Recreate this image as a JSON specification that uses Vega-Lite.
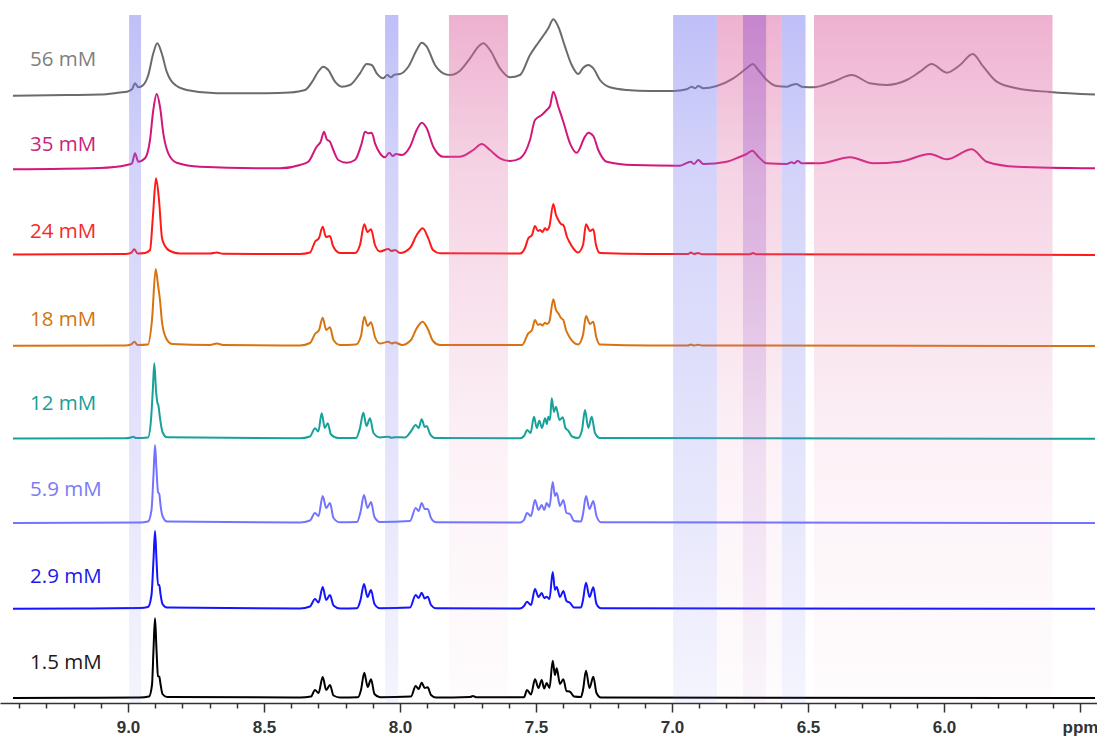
{
"$schema":"https://vega.github.io/schema/vega-lite/v6.json",
"width":1097,"height":703,"autosize":{"type":"none"},"padding":{"left":0,"top":0,"right":0,"bottom":35},
"config":{"view":{"stroke":null},"background":"white"},
"datasets":{
"bands":[
{"k":"blue","a":8.996,"b":8.952},{"k":"blue","a":8.055,"b":8.006},{"k":"pink","a":7.820,"b":7.603},
{"k":"blue","a":6.996,"b":6.835},{"k":"pink","a":6.835,"b":6.596},{"k":"purple","a":6.739,"b":6.654},
{"k":"blue","a":6.596,"b":6.509},{"k":"pink","a":6.478,"b":5.601}],
"labels":[
{"s":"56 mM","x":9.36,"y":643},{"s":"35 mM","x":9.36,"y":558},{"s":"24 mM","x":9.36,"y":471},{"s":"18 mM","x":9.36,"y":383},
{"s":"12 mM","x":9.36,"y":299},{"s":"5.9 mM","x":9.36,"y":213},{"s":"2.9 mM","x":9.36,"y":126},{"s":"1.5 mM","x":9.36,"y":40}],
"spec":[
{"s":"56 mM","x":9.4228,"y":607.3},{"s":"56 mM","x":9.2243,"y":608},{"s":"56 mM","x":9.1030,"y":608.5},{"s":"56 mM","x":9.0294,"y":610.5},{"s":"56 mM","x":9.0037,"y":611.3},{"s":"56 mM","x":8.9853,"y":613.7},{"s":"56 mM","x":8.9743,"y":619.7},{"s":"56 mM","x":8.9621,"y":615.7},{"s":"56 mM","x":8.9438,"y":618},{"s":"56 mM","x":8.9254,"y":628},{"s":"56 mM","x":8.9070,"y":649.7},{"s":"56 mM","x":8.8923,"y":659.7},{"s":"56 mM","x":8.8761,"y":649.7},{"s":"56 mM","x":8.8577,"y":631.3},{"s":"56 mM","x":8.8335,"y":619.7},{"s":"56 mM","x":8.7842,"y":613},{"s":"56 mM","x":8.6739,"y":609.7},{"s":"56 mM","x":8.4901,"y":609.7},{"s":"56 mM","x":8.4044,"y":610.5},{"s":"56 mM","x":8.3493,"y":613},{"s":"56 mM","x":8.3188,"y":623},{"s":"56 mM","x":8.3015,"y":631},{"s":"56 mM","x":8.2820,"y":636.3},{"s":"56 mM","x":8.2636,"y":633},{"s":"56 mM","x":8.2390,"y":621.3},{"s":"56 mM","x":8.2143,"y":616.3},{"s":"56 mM","x":8.1838,"y":618},{"s":"56 mM","x":8.1471,"y":629.7},{"s":"56 mM","x":8.1224,"y":639},{"s":"56 mM","x":8.1041,"y":638},{"s":"56 mM","x":8.0857,"y":629.7},{"s":"56 mM","x":8.0614,"y":624.7},{"s":"56 mM","x":8.0467,"y":628},{"s":"56 mM","x":8.0331,"y":625.7},{"s":"56 mM","x":8.0210,"y":628.3},{"s":"56 mM","x":8.0000,"y":629},{"s":"56 mM","x":7.9695,"y":636.3},{"s":"56 mM","x":7.9386,"y":653},{"s":"56 mM","x":7.9202,"y":660.3},{"s":"56 mM","x":7.9018,"y":656.3},{"s":"56 mM","x":7.8713,"y":638},{"s":"56 mM","x":7.8408,"y":629.7},{"s":"56 mM","x":7.8162,"y":628},{"s":"56 mM","x":7.7794,"y":632.3},{"s":"56 mM","x":7.7427,"y":644.7},{"s":"56 mM","x":7.7121,"y":656.3},{"s":"56 mM","x":7.6938,"y":659.7},{"s":"56 mM","x":7.6691,"y":653},{"s":"56 mM","x":7.6324,"y":634.7},{"s":"56 mM","x":7.5956,"y":625.7},{"s":"56 mM","x":7.5588,"y":628},{"s":"56 mM","x":7.5221,"y":648},{"s":"56 mM","x":7.4916,"y":660.3},{"s":"56 mM","x":7.4669,"y":669.7},{"s":"56 mM","x":7.4548,"y":674.7},{"s":"56 mM","x":7.4364,"y":683.7},{"s":"56 mM","x":7.4180,"y":676.3},{"s":"56 mM","x":7.3934,"y":656.3},{"s":"56 mM","x":7.3688,"y":638},{"s":"56 mM","x":7.3445,"y":629},{"s":"56 mM","x":7.3272,"y":635},{"s":"56 mM","x":7.3077,"y":638},{"s":"56 mM","x":7.2893,"y":634.7},{"s":"56 mM","x":7.2647,"y":623},{"s":"56 mM","x":7.2280,"y":615.7},{"s":"56 mM","x":7.1666,"y":613},{"s":"56 mM","x":7.0809,"y":612},{"s":"56 mM","x":6.9952,"y":612},{"s":"56 mM","x":6.9460,"y":613.7},{"s":"56 mM","x":6.9276,"y":616.3},{"s":"56 mM","x":6.9155,"y":614.7},{"s":"56 mM","x":6.9033,"y":617},{"s":"56 mM","x":6.8849,"y":614.7},{"s":"56 mM","x":6.8357,"y":617},{"s":"56 mM","x":6.7746,"y":624.7},{"s":"56 mM","x":6.7254,"y":634.7},{"s":"56 mM","x":6.7033,"y":639},{"s":"56 mM","x":6.6827,"y":633},{"s":"56 mM","x":6.6518,"y":623},{"s":"56 mM","x":6.6151,"y":617},{"s":"56 mM","x":6.5783,"y":616.3},{"s":"56 mM","x":6.5599,"y":618},{"s":"56 mM","x":6.5416,"y":619},{"s":"56 mM","x":6.5232,"y":616.3},{"s":"56 mM","x":6.4805,"y":615.7},{"s":"56 mM","x":6.4070,"y":621.3},{"s":"56 mM","x":6.3393,"y":628},{"s":"56 mM","x":6.2721,"y":619.7},{"s":"56 mM","x":6.2107,"y":618},{"s":"56 mM","x":6.1371,"y":623},{"s":"56 mM","x":6.0882,"y":631.3},{"s":"56 mM","x":6.0452,"y":639},{"s":"56 mM","x":5.9901,"y":630.3},{"s":"56 mM","x":5.9412,"y":638},{"s":"56 mM","x":5.8945,"y":649},{"s":"56 mM","x":5.8555,"y":636.3},{"s":"56 mM","x":5.8063,"y":621.3},{"s":"56 mM","x":5.7327,"y":614.7},{"s":"56 mM","x":5.6103,"y":611},{"s":"56 mM","x":5.4449,"y":608.5},
{"s":"35 mM","x":9.4228,"y":533.7},{"s":"35 mM","x":9.1030,"y":535},{"s":"35 mM","x":9.0037,"y":538},{"s":"35 mM","x":8.9853,"y":539.7},{"s":"35 mM","x":8.9743,"y":549.7},{"s":"35 mM","x":8.9621,"y":541.3},{"s":"35 mM","x":8.9375,"y":544.7},{"s":"35 mM","x":8.9191,"y":563},{"s":"35 mM","x":8.9070,"y":593},{"s":"35 mM","x":8.8945,"y":609},{"s":"35 mM","x":8.8824,"y":596.3},{"s":"35 mM","x":8.8702,"y":569.7},{"s":"35 mM","x":8.8518,"y":549.7},{"s":"35 mM","x":8.8210,"y":540.3},{"s":"35 mM","x":8.7353,"y":536.3},{"s":"35 mM","x":8.4412,"y":534.7},{"s":"35 mM","x":8.3677,"y":538},{"s":"35 mM","x":8.3371,"y":541.3},{"s":"35 mM","x":8.3063,"y":556.3},{"s":"35 mM","x":8.2916,"y":561.3},{"s":"35 mM","x":8.2794,"y":571.3},{"s":"35 mM","x":8.2695,"y":563.7},{"s":"35 mM","x":8.2574,"y":561.3},{"s":"35 mM","x":8.2452,"y":553},{"s":"35 mM","x":8.2268,"y":543},{"s":"35 mM","x":8.1960,"y":540.3},{"s":"35 mM","x":8.1655,"y":543},{"s":"35 mM","x":8.1408,"y":559.7},{"s":"35 mM","x":8.1287,"y":571.3},{"s":"35 mM","x":8.1166,"y":569.7},{"s":"35 mM","x":8.1041,"y":570.3},{"s":"35 mM","x":8.0919,"y":559.7},{"s":"35 mM","x":8.0735,"y":549.7},{"s":"35 mM","x":8.0552,"y":545.7},{"s":"35 mM","x":8.0394,"y":550.3},{"s":"35 mM","x":8.0268,"y":547},{"s":"35 mM","x":8.0147,"y":549},{"s":"35 mM","x":7.9938,"y":548},{"s":"35 mM","x":7.9632,"y":556.3},{"s":"35 mM","x":7.9386,"y":573},{"s":"35 mM","x":7.9202,"y":580.3},{"s":"35 mM","x":7.9018,"y":574.7},{"s":"35 mM","x":7.8776,"y":556.3},{"s":"35 mM","x":7.8408,"y":546.3},{"s":"35 mM","x":7.7794,"y":546.3},{"s":"35 mM","x":7.7305,"y":553},{"s":"35 mM","x":7.6996,"y":559},{"s":"35 mM","x":7.6691,"y":553},{"s":"35 mM","x":7.6324,"y":544.7},{"s":"35 mM","x":7.5956,"y":542},{"s":"35 mM","x":7.5588,"y":544.7},{"s":"35 mM","x":7.5221,"y":563},{"s":"35 mM","x":7.5037,"y":583},{"s":"35 mM","x":7.4791,"y":588},{"s":"35 mM","x":7.4607,"y":593},{"s":"35 mM","x":7.4485,"y":597},{"s":"35 mM","x":7.4364,"y":611.3},{"s":"35 mM","x":7.4180,"y":596.3},{"s":"35 mM","x":7.3996,"y":581.3},{"s":"35 mM","x":7.3750,"y":559.7},{"s":"35 mM","x":7.3504,"y":550.3},{"s":"35 mM","x":7.3199,"y":566.3},{"s":"35 mM","x":7.3077,"y":570.3},{"s":"35 mM","x":7.2893,"y":567},{"s":"35 mM","x":7.2710,"y":553},{"s":"35 mM","x":7.2401,"y":541.3},{"s":"35 mM","x":7.1423,"y":538},{"s":"35 mM","x":6.9706,"y":537.3},{"s":"35 mM","x":6.9313,"y":541.3},{"s":"35 mM","x":6.9191,"y":539},{"s":"35 mM","x":6.9033,"y":543},{"s":"35 mM","x":6.8849,"y":539},{"s":"35 mM","x":6.7989,"y":541.3},{"s":"35 mM","x":6.7500,"y":546.3},{"s":"35 mM","x":6.7254,"y":549},{"s":"35 mM","x":6.7048,"y":552.3},{"s":"35 mM","x":6.6827,"y":546.3},{"s":"35 mM","x":6.6518,"y":539.7},{"s":"35 mM","x":6.5783,"y":539},{"s":"35 mM","x":6.5599,"y":540.7},{"s":"35 mM","x":6.5504,"y":539.7},{"s":"35 mM","x":6.5379,"y":542.3},{"s":"35 mM","x":6.5232,"y":539.7},{"s":"35 mM","x":6.4559,"y":539.7},{"s":"35 mM","x":6.3456,"y":545.7},{"s":"35 mM","x":6.2599,"y":539.7},{"s":"35 mM","x":6.1618,"y":541.3},{"s":"35 mM","x":6.0515,"y":549},{"s":"35 mM","x":5.9901,"y":543.7},{"s":"35 mM","x":5.8982,"y":553.7},{"s":"35 mM","x":5.8430,"y":541.3},{"s":"35 mM","x":5.7327,"y":536.3},{"s":"35 mM","x":5.4449,"y":534.7},
{"s":"24 mM","x":9.4228,"y":448.5},{"s":"24 mM","x":9.0110,"y":449},{"s":"24 mM","x":8.9890,"y":450},{"s":"24 mM","x":8.9768,"y":453.7},{"s":"24 mM","x":8.9651,"y":449.5},{"s":"24 mM","x":8.9375,"y":450},{"s":"24 mM","x":8.9191,"y":453},{"s":"24 mM","x":8.9081,"y":488},{"s":"24 mM","x":8.8971,"y":524.7},{"s":"24 mM","x":8.8860,"y":503},{"s":"24 mM","x":8.8750,"y":465},{"s":"24 mM","x":8.8640,"y":457},{"s":"24 mM","x":8.8456,"y":452},{"s":"24 mM","x":8.8088,"y":449.5},{"s":"24 mM","x":8.6985,"y":449.5},{"s":"24 mM","x":8.6739,"y":450.5},{"s":"24 mM","x":8.6507,"y":449.2},{"s":"24 mM","x":8.3677,"y":449},{"s":"24 mM","x":8.3309,"y":450.5},{"s":"24 mM","x":8.3125,"y":461.3},{"s":"24 mM","x":8.2978,"y":465},{"s":"24 mM","x":8.2842,"y":476.3},{"s":"24 mM","x":8.2721,"y":466},{"s":"24 mM","x":8.2574,"y":467},{"s":"24 mM","x":8.2463,"y":457},{"s":"24 mM","x":8.2206,"y":450},{"s":"24 mM","x":8.1655,"y":450},{"s":"24 mM","x":8.1471,"y":458},{"s":"24 mM","x":8.1313,"y":478.7},{"s":"24 mM","x":8.1195,"y":471},{"s":"24 mM","x":8.1066,"y":473.7},{"s":"24 mM","x":8.0919,"y":458},{"s":"24 mM","x":8.0735,"y":451.5},{"s":"24 mM","x":8.0430,"y":454},{"s":"24 mM","x":8.0313,"y":452},{"s":"24 mM","x":8.0184,"y":453},{"s":"24 mM","x":8.0000,"y":450},{"s":"24 mM","x":7.9632,"y":455},{"s":"24 mM","x":7.9386,"y":468},{"s":"24 mM","x":7.9166,"y":474.7},{"s":"24 mM","x":7.8960,"y":464.7},{"s":"24 mM","x":7.8787,"y":453},{"s":"24 mM","x":7.8530,"y":449.7},{"s":"24 mM","x":7.5588,"y":449.5},{"s":"24 mM","x":7.5405,"y":455},{"s":"24 mM","x":7.5283,"y":464.7},{"s":"24 mM","x":7.5147,"y":468},{"s":"24 mM","x":7.5037,"y":477},{"s":"24 mM","x":7.4927,"y":472},{"s":"24 mM","x":7.4853,"y":473},{"s":"24 mM","x":7.4761,"y":471},{"s":"24 mM","x":7.4669,"y":474.7},{"s":"24 mM","x":7.4596,"y":473},{"s":"24 mM","x":7.4511,"y":476.3},{"s":"24 mM","x":7.4364,"y":499},{"s":"24 mM","x":7.4265,"y":488},{"s":"24 mM","x":7.4180,"y":483},{"s":"24 mM","x":7.4081,"y":479},{"s":"24 mM","x":7.3996,"y":478},{"s":"24 mM","x":7.3860,"y":466},{"s":"24 mM","x":7.3776,"y":461.3},{"s":"24 mM","x":7.3629,"y":454.7},{"s":"24 mM","x":7.3456,"y":450.5},{"s":"24 mM","x":7.3272,"y":458},{"s":"24 mM","x":7.3162,"y":478.7},{"s":"24 mM","x":7.3015,"y":472},{"s":"24 mM","x":7.2893,"y":473.7},{"s":"24 mM","x":7.2794,"y":458},{"s":"24 mM","x":7.2647,"y":450},{"s":"24 mM","x":7.0809,"y":449},{"s":"24 mM","x":6.9412,"y":449},{"s":"24 mM","x":6.9302,"y":450.5},{"s":"24 mM","x":6.9191,"y":449},{"s":"24 mM","x":6.9044,"y":450},{"s":"24 mM","x":6.8897,"y":448.7},{"s":"24 mM","x":6.7132,"y":448.7},{"s":"24 mM","x":6.7022,"y":450},{"s":"24 mM","x":6.6912,"y":448.7},{"s":"24 mM","x":5.4449,"y":448},
{"s":"18 mM","x":9.4228,"y":357.3},{"s":"18 mM","x":9.0110,"y":357.5},{"s":"18 mM","x":8.9890,"y":358.5},{"s":"18 mM","x":8.9768,"y":361.3},{"s":"18 mM","x":8.9651,"y":358},{"s":"18 mM","x":8.9265,"y":358.5},{"s":"18 mM","x":8.9118,"y":383},{"s":"18 mM","x":8.8982,"y":434},{"s":"18 mM","x":8.8897,"y":418},{"s":"18 mM","x":8.8824,"y":403},{"s":"18 mM","x":8.8750,"y":381},{"s":"18 mM","x":8.8603,"y":365},{"s":"18 mM","x":8.8382,"y":359},{"s":"18 mM","x":8.6985,"y":358},{"s":"18 mM","x":8.6739,"y":359.5},{"s":"18 mM","x":8.6507,"y":358},{"s":"18 mM","x":8.3677,"y":357.5},{"s":"18 mM","x":8.3309,"y":360},{"s":"18 mM","x":8.3125,"y":369},{"s":"18 mM","x":8.2978,"y":373},{"s":"18 mM","x":8.2842,"y":385.3},{"s":"18 mM","x":8.2713,"y":373},{"s":"18 mM","x":8.2574,"y":375.7},{"s":"18 mM","x":8.2445,"y":363},{"s":"18 mM","x":8.2206,"y":358},{"s":"18 mM","x":8.1618,"y":358.5},{"s":"18 mM","x":8.1434,"y":367},{"s":"18 mM","x":8.1313,"y":386.3},{"s":"18 mM","x":8.1195,"y":377},{"s":"18 mM","x":8.1066,"y":380.7},{"s":"18 mM","x":8.0919,"y":366},{"s":"18 mM","x":8.0735,"y":359.5},{"s":"18 mM","x":8.0430,"y":361.3},{"s":"18 mM","x":8.0313,"y":359.5},{"s":"18 mM","x":8.0184,"y":360.5},{"s":"18 mM","x":7.9927,"y":358},{"s":"18 mM","x":7.9596,"y":363},{"s":"18 mM","x":7.9386,"y":374.7},{"s":"18 mM","x":7.9166,"y":381.3},{"s":"18 mM","x":7.8960,"y":373},{"s":"18 mM","x":7.8787,"y":362},{"s":"18 mM","x":7.8530,"y":358},{"s":"18 mM","x":7.5515,"y":358},{"s":"18 mM","x":7.5283,"y":369.7},{"s":"18 mM","x":7.5147,"y":373},{"s":"18 mM","x":7.5037,"y":383},{"s":"18 mM","x":7.4927,"y":378},{"s":"18 mM","x":7.4853,"y":379},{"s":"18 mM","x":7.4761,"y":377.5},{"s":"18 mM","x":7.4669,"y":380.3},{"s":"18 mM","x":7.4596,"y":379},{"s":"18 mM","x":7.4511,"y":381.3},{"s":"18 mM","x":7.4364,"y":403.7},{"s":"18 mM","x":7.4265,"y":393},{"s":"18 mM","x":7.4180,"y":389.7},{"s":"18 mM","x":7.4081,"y":385},{"s":"18 mM","x":7.3996,"y":383},{"s":"18 mM","x":7.3897,"y":373},{"s":"18 mM","x":7.3776,"y":366.3},{"s":"18 mM","x":7.3629,"y":361},{"s":"18 mM","x":7.3456,"y":358.5},{"s":"18 mM","x":7.3272,"y":368},{"s":"18 mM","x":7.3162,"y":387},{"s":"18 mM","x":7.3015,"y":379},{"s":"18 mM","x":7.2893,"y":381.3},{"s":"18 mM","x":7.2794,"y":367},{"s":"18 mM","x":7.2647,"y":358.5},{"s":"18 mM","x":7.0809,"y":357.5},{"s":"18 mM","x":6.9412,"y":357.5},{"s":"18 mM","x":6.9302,"y":358.5},{"s":"18 mM","x":6.9191,"y":357.5},{"s":"18 mM","x":6.9044,"y":358.2},{"s":"18 mM","x":6.8897,"y":357.5},{"s":"18 mM","x":5.4449,"y":357},
{"s":"12 mM","x":9.4228,"y":264.5},{"s":"12 mM","x":9.0110,"y":264.7},{"s":"12 mM","x":8.9927,"y":265.2},{"s":"12 mM","x":8.9805,"y":266.3},{"s":"12 mM","x":8.9706,"y":265},{"s":"12 mM","x":8.9265,"y":265.5},{"s":"12 mM","x":8.9155,"y":283},{"s":"12 mM","x":8.9088,"y":313},{"s":"12 mM","x":8.9033,"y":339.7},{"s":"12 mM","x":8.8971,"y":313},{"s":"12 mM","x":8.8916,"y":300},{"s":"12 mM","x":8.8886,"y":298},{"s":"12 mM","x":8.8824,"y":285},{"s":"12 mM","x":8.8732,"y":271},{"s":"12 mM","x":8.8566,"y":265.7},{"s":"12 mM","x":8.3677,"y":264.7},{"s":"12 mM","x":8.3309,"y":266.5},{"s":"12 mM","x":8.3125,"y":274.7},{"s":"12 mM","x":8.3004,"y":271.5},{"s":"12 mM","x":8.2879,"y":289.7},{"s":"12 mM","x":8.2765,"y":275},{"s":"12 mM","x":8.2658,"y":279.7},{"s":"12 mM","x":8.2537,"y":268.5},{"s":"12 mM","x":8.2280,"y":265},{"s":"12 mM","x":8.1618,"y":265},{"s":"12 mM","x":8.1471,"y":275},{"s":"12 mM","x":8.1349,"y":290.3},{"s":"12 mM","x":8.1232,"y":277},{"s":"12 mM","x":8.1103,"y":284.7},{"s":"12 mM","x":8.0974,"y":270},{"s":"12 mM","x":8.0735,"y":265.5},{"s":"12 mM","x":8.0430,"y":266.3},{"s":"12 mM","x":8.0313,"y":265.2},{"s":"12 mM","x":8.0184,"y":265.8},{"s":"12 mM","x":7.9816,"y":265.5},{"s":"12 mM","x":7.9614,"y":271},{"s":"12 mM","x":7.9423,"y":278},{"s":"12 mM","x":7.9316,"y":275},{"s":"12 mM","x":7.9202,"y":283.7},{"s":"12 mM","x":7.9088,"y":276},{"s":"12 mM","x":7.9018,"y":277},{"s":"12 mM","x":7.8897,"y":269},{"s":"12 mM","x":7.8713,"y":265},{"s":"12 mM","x":7.5588,"y":264.7},{"s":"12 mM","x":7.5441,"y":267},{"s":"12 mM","x":7.5320,"y":273},{"s":"12 mM","x":7.5202,"y":270},{"s":"12 mM","x":7.5074,"y":286.3},{"s":"12 mM","x":7.4971,"y":275},{"s":"12 mM","x":7.4879,"y":282.3},{"s":"12 mM","x":7.4780,"y":275},{"s":"12 mM","x":7.4669,"y":284.7},{"s":"12 mM","x":7.4603,"y":279},{"s":"12 mM","x":7.4548,"y":286.3},{"s":"12 mM","x":7.4485,"y":283},{"s":"12 mM","x":7.4423,"y":304.7},{"s":"12 mM","x":7.4338,"y":291},{"s":"12 mM","x":7.4265,"y":296.3},{"s":"12 mM","x":7.4136,"y":283},{"s":"12 mM","x":7.4018,"y":285.7},{"s":"12 mM","x":7.3916,"y":275},{"s":"12 mM","x":7.3813,"y":272.3},{"s":"12 mM","x":7.3677,"y":266.5},{"s":"12 mM","x":7.3456,"y":265},{"s":"12 mM","x":7.3309,"y":273},{"s":"12 mM","x":7.3199,"y":293},{"s":"12 mM","x":7.3077,"y":275},{"s":"12 mM","x":7.2952,"y":286.3},{"s":"12 mM","x":7.2831,"y":270},{"s":"12 mM","x":7.2647,"y":265},{"s":"12 mM","x":5.4449,"y":264.2},
{"s":"5.9 mM","x":9.4228,"y":180},{"s":"5.9 mM","x":8.9559,"y":180.5},{"s":"5.9 mM","x":8.9265,"y":181.5},{"s":"5.9 mM","x":8.9136,"y":193},{"s":"5.9 mM","x":8.9063,"y":228},{"s":"5.9 mM","x":8.9007,"y":258},{"s":"5.9 mM","x":8.8952,"y":233},{"s":"5.9 mM","x":8.8897,"y":211},{"s":"5.9 mM","x":8.8849,"y":209},{"s":"5.9 mM","x":8.8805,"y":198},{"s":"5.9 mM","x":8.8732,"y":187},{"s":"5.9 mM","x":8.8566,"y":181.5},{"s":"5.9 mM","x":8.3677,"y":180.5},{"s":"5.9 mM","x":8.3309,"y":182.5},{"s":"5.9 mM","x":8.3125,"y":190},{"s":"5.9 mM","x":8.2996,"y":187},{"s":"5.9 mM","x":8.2842,"y":207},{"s":"5.9 mM","x":8.2713,"y":195},{"s":"5.9 mM","x":8.2574,"y":200},{"s":"5.9 mM","x":8.2445,"y":185},{"s":"5.9 mM","x":8.2206,"y":180.7},{"s":"5.9 mM","x":8.1581,"y":181},{"s":"5.9 mM","x":8.1452,"y":191},{"s":"5.9 mM","x":8.1324,"y":208},{"s":"5.9 mM","x":8.1195,"y":195},{"s":"5.9 mM","x":8.1066,"y":201},{"s":"5.9 mM","x":8.0938,"y":186},{"s":"5.9 mM","x":8.0735,"y":181},{"s":"5.9 mM","x":7.9632,"y":182},{"s":"5.9 mM","x":7.9423,"y":195},{"s":"5.9 mM","x":7.9316,"y":192},{"s":"5.9 mM","x":7.9202,"y":200},{"s":"5.9 mM","x":7.9092,"y":194},{"s":"5.9 mM","x":7.8982,"y":194},{"s":"5.9 mM","x":7.8860,"y":185},{"s":"5.9 mM","x":7.8677,"y":180.7},{"s":"5.9 mM","x":7.5588,"y":180.5},{"s":"5.9 mM","x":7.5441,"y":183},{"s":"5.9 mM","x":7.5331,"y":190},{"s":"5.9 mM","x":7.5184,"y":187},{"s":"5.9 mM","x":7.5037,"y":203},{"s":"5.9 mM","x":7.4908,"y":193},{"s":"5.9 mM","x":7.4791,"y":198},{"s":"5.9 mM","x":7.4699,"y":193},{"s":"5.9 mM","x":7.4607,"y":200},{"s":"5.9 mM","x":7.4504,"y":196},{"s":"5.9 mM","x":7.4386,"y":221},{"s":"5.9 mM","x":7.4302,"y":207},{"s":"5.9 mM","x":7.4239,"y":210},{"s":"5.9 mM","x":7.4118,"y":197},{"s":"5.9 mM","x":7.3996,"y":203},{"s":"5.9 mM","x":7.3879,"y":190},{"s":"5.9 mM","x":7.3750,"y":189},{"s":"5.9 mM","x":7.3603,"y":182},{"s":"5.9 mM","x":7.3346,"y":181.5},{"s":"5.9 mM","x":7.3272,"y":189},{"s":"5.9 mM","x":7.3162,"y":207},{"s":"5.9 mM","x":7.3033,"y":194},{"s":"5.9 mM","x":7.2893,"y":202},{"s":"5.9 mM","x":7.2776,"y":187},{"s":"5.9 mM","x":7.2610,"y":180.7},{"s":"5.9 mM","x":5.4449,"y":180},
{"s":"2.9 mM","x":9.4228,"y":94.3},{"s":"2.9 mM","x":9.1765,"y":94.5},{"s":"2.9 mM","x":8.9559,"y":95},{"s":"2.9 mM","x":8.9265,"y":96},{"s":"2.9 mM","x":8.9136,"y":108},{"s":"2.9 mM","x":8.9063,"y":143},{"s":"2.9 mM","x":8.9007,"y":172},{"s":"2.9 mM","x":8.8952,"y":143},{"s":"2.9 mM","x":8.8897,"y":118},{"s":"2.9 mM","x":8.8849,"y":118},{"s":"2.9 mM","x":8.8805,"y":109},{"s":"2.9 mM","x":8.8732,"y":99},{"s":"2.9 mM","x":8.8566,"y":95.5},{"s":"2.9 mM","x":8.3677,"y":94.5},{"s":"2.9 mM","x":8.3309,"y":96.5},{"s":"2.9 mM","x":8.3125,"y":104},{"s":"2.9 mM","x":8.2996,"y":100.5},{"s":"2.9 mM","x":8.2842,"y":116},{"s":"2.9 mM","x":8.2713,"y":103},{"s":"2.9 mM","x":8.2574,"y":108},{"s":"2.9 mM","x":8.2445,"y":97.5},{"s":"2.9 mM","x":8.2206,"y":94.5},{"s":"2.9 mM","x":8.1581,"y":94.7},{"s":"2.9 mM","x":8.1452,"y":103},{"s":"2.9 mM","x":8.1324,"y":119},{"s":"2.9 mM","x":8.1195,"y":106},{"s":"2.9 mM","x":8.1066,"y":113},{"s":"2.9 mM","x":8.0938,"y":99},{"s":"2.9 mM","x":8.0735,"y":94.7},{"s":"2.9 mM","x":7.9632,"y":95.5},{"s":"2.9 mM","x":7.9423,"y":108},{"s":"2.9 mM","x":7.9316,"y":105},{"s":"2.9 mM","x":7.9202,"y":110.3},{"s":"2.9 mM","x":7.9092,"y":104.5},{"s":"2.9 mM","x":7.8982,"y":106.3},{"s":"2.9 mM","x":7.8860,"y":98},{"s":"2.9 mM","x":7.8677,"y":94.7},{"s":"2.9 mM","x":7.5588,"y":94.5},{"s":"2.9 mM","x":7.5441,"y":97},{"s":"2.9 mM","x":7.5331,"y":101.3},{"s":"2.9 mM","x":7.5184,"y":98},{"s":"2.9 mM","x":7.5037,"y":114},{"s":"2.9 mM","x":7.4908,"y":106},{"s":"2.9 mM","x":7.4791,"y":110},{"s":"2.9 mM","x":7.4699,"y":105},{"s":"2.9 mM","x":7.4607,"y":106.3},{"s":"2.9 mM","x":7.4504,"y":104},{"s":"2.9 mM","x":7.4386,"y":131},{"s":"2.9 mM","x":7.4302,"y":113},{"s":"2.9 mM","x":7.4239,"y":116},{"s":"2.9 mM","x":7.4118,"y":106},{"s":"2.9 mM","x":7.3996,"y":112},{"s":"2.9 mM","x":7.3879,"y":102},{"s":"2.9 mM","x":7.3750,"y":100.3},{"s":"2.9 mM","x":7.3603,"y":95.5},{"s":"2.9 mM","x":7.3346,"y":95.5},{"s":"2.9 mM","x":7.3272,"y":103},{"s":"2.9 mM","x":7.3162,"y":120.3},{"s":"2.9 mM","x":7.3033,"y":106},{"s":"2.9 mM","x":7.2893,"y":115.7},{"s":"2.9 mM","x":7.2776,"y":99},{"s":"2.9 mM","x":7.2610,"y":94.7},{"s":"2.9 mM","x":5.4449,"y":94.2},
{"s":"1.5 mM","x":9.4228,"y":5},{"s":"1.5 mM","x":9.1765,"y":5.2},{"s":"1.5 mM","x":8.9559,"y":5.5},{"s":"1.5 mM","x":8.9228,"y":6.5},{"s":"1.5 mM","x":8.9118,"y":18},{"s":"1.5 mM","x":8.9063,"y":53},{"s":"1.5 mM","x":8.9007,"y":84.7},{"s":"1.5 mM","x":8.8952,"y":53},{"s":"1.5 mM","x":8.8897,"y":27},{"s":"1.5 mM","x":8.8849,"y":26.3},{"s":"1.5 mM","x":8.8805,"y":19},{"s":"1.5 mM","x":8.8732,"y":9},{"s":"1.5 mM","x":8.8566,"y":6},{"s":"1.5 mM","x":8.3677,"y":5.5},{"s":"1.5 mM","x":8.3272,"y":6.5},{"s":"1.5 mM","x":8.3125,"y":13},{"s":"1.5 mM","x":8.2996,"y":10},{"s":"1.5 mM","x":8.2842,"y":26},{"s":"1.5 mM","x":8.2713,"y":13},{"s":"1.5 mM","x":8.2574,"y":18},{"s":"1.5 mM","x":8.2445,"y":7.5},{"s":"1.5 mM","x":8.2206,"y":5.5},{"s":"1.5 mM","x":8.1544,"y":5.7},{"s":"1.5 mM","x":8.1434,"y":13},{"s":"1.5 mM","x":8.1313,"y":30.3},{"s":"1.5 mM","x":8.1188,"y":16},{"s":"1.5 mM","x":8.1066,"y":23.7},{"s":"1.5 mM","x":8.0938,"y":9},{"s":"1.5 mM","x":8.0735,"y":5.7},{"s":"1.5 mM","x":7.9596,"y":6.5},{"s":"1.5 mM","x":7.9423,"y":17},{"s":"1.5 mM","x":7.9316,"y":14},{"s":"1.5 mM","x":7.9202,"y":20.3},{"s":"1.5 mM","x":7.9092,"y":15},{"s":"1.5 mM","x":7.8982,"y":15.7},{"s":"1.5 mM","x":7.8860,"y":8},{"s":"1.5 mM","x":7.8677,"y":5.5},{"s":"1.5 mM","x":7.7427,"y":6},{"s":"1.5 mM","x":7.7316,"y":7},{"s":"1.5 mM","x":7.7206,"y":5.8},{"s":"1.5 mM","x":7.5441,"y":5.7},{"s":"1.5 mM","x":7.5331,"y":13},{"s":"1.5 mM","x":7.5184,"y":8.5},{"s":"1.5 mM","x":7.5037,"y":23.7},{"s":"1.5 mM","x":7.4908,"y":15},{"s":"1.5 mM","x":7.4791,"y":23},{"s":"1.5 mM","x":7.4699,"y":14.5},{"s":"1.5 mM","x":7.4607,"y":20},{"s":"1.5 mM","x":7.4504,"y":15},{"s":"1.5 mM","x":7.4386,"y":42.3},{"s":"1.5 mM","x":7.4302,"y":28},{"s":"1.5 mM","x":7.4239,"y":34.7},{"s":"1.5 mM","x":7.4118,"y":19},{"s":"1.5 mM","x":7.3996,"y":23.7},{"s":"1.5 mM","x":7.3879,"y":12},{"s":"1.5 mM","x":7.3750,"y":11.3},{"s":"1.5 mM","x":7.3603,"y":6.5},{"s":"1.5 mM","x":7.3346,"y":6},{"s":"1.5 mM","x":7.3272,"y":13},{"s":"1.5 mM","x":7.3162,"y":32.3},{"s":"1.5 mM","x":7.3033,"y":15},{"s":"1.5 mM","x":7.2893,"y":26.3},{"s":"1.5 mM","x":7.2776,"y":10},{"s":"1.5 mM","x":7.2610,"y":5.5},{"s":"1.5 mM","x":5.4449,"y":5}
]},
"layer":[
{"data":{"name":"spec"},
 "mark":{"type":"line","strokeWidth":2,"interpolate":"monotone","strokeJoin":"round"},
 "encoding":{
  "x":{"field":"x","type":"quantitative","scale":{"domain":[5.4375,9.4706],"reverse":true,"nice":false,"zero":false},
   "axis":{"title":null,"orient":"bottom","grid":false,
    "values":[9.0,8.5,8.0,7.5,7.0,6.5,6.0,5.5],
    "domainColor":"#333333","domainWidth":1.6,"tickColor":"#333333","tickWidth":1.5,"tickSize":9,
    "labelExpr":"datum.value<5.6 ? 'ppm' : format(datum.value,'.1f')",
    "labelFont":"Liberation Sans","labelFontWeight":"bold","labelFontSize":17,"labelColor":"#333333","labelPadding":7,
    "labelFlush":false,"labelOverlap":false}},
  "y":{"field":"y","type":"quantitative","scale":{"domain":[0,703],"nice":false,"zero":false},"axis":null},
  "color":{"field":"s","type":"nominal","legend":null,
   "scale":{"domain":["56 mM","35 mM","24 mM","18 mM","12 mM","5.9 mM","2.9 mM","1.5 mM"],
    "range":["#6b6b6b","#d1177a","#ff1a1a","#d8730f","#17a19b","#7373ff","#1414ff","#000000"]}}
 }},
{"data":{"name":"bands"},"transform":[{"filter":"datum.k==='pink'"}],
 "mark":{"type":"rect","fill":{"gradient":"linear","x1":0,"y1":0,"x2":0,"y2":1,"stops":[{"offset":0,"color":"rgba(220,100,160,0.5)"},{"offset":0.23,"color":"rgba(220,100,160,0.28)"},{"offset":0.65,"color":"rgba(220,100,160,0.08)"},{"offset":1,"color":"rgba(220,100,160,0.02)"}]}},
 "encoding":{"x":{"field":"a","type":"quantitative",
   "axis":{"title":null,"orient":"bottom","grid":false,"domain":false,"labels":false,
    "values":[9.4,9.3,9.2,9.1,8.9,8.8,8.7,8.6,8.4,8.3,8.2,8.1,7.9,7.8,7.7,7.6,7.4,7.3,7.2,7.1,6.9,6.8,6.7,6.6,6.4,6.3,6.2,6.1,5.9,5.8,5.7,5.6],
    "tickColor":"#333333","tickWidth":1.5,"tickSize":5}},
  "x2":{"field":"b"},"y":{"datum":688},"y2":{"datum":0}}},
{"data":{"name":"bands"},"transform":[{"filter":"datum.k==='purple'"}],
 "mark":{"type":"rect","fill":{"gradient":"linear","x1":0,"y1":0,"x2":0,"y2":1,"stops":[{"offset":0,"color":"rgba(150,80,200,0.45)"},{"offset":0.23,"color":"rgba(150,80,200,0.3)"},{"offset":0.65,"color":"rgba(150,80,200,0.12)"},{"offset":1,"color":"rgba(150,80,200,0.04)"}]}},
 "encoding":{"x":{"field":"a","type":"quantitative","axis":null},"x2":{"field":"b"},"y":{"datum":688},"y2":{"datum":0}}},
{"data":{"name":"bands"},"transform":[{"filter":"datum.k==='blue'"}],
 "mark":{"type":"rect","fill":{"gradient":"linear","x1":0,"y1":0,"x2":0,"y2":1,"stops":[{"offset":0,"color":"rgba(120,120,240,0.47)"},{"offset":0.23,"color":"rgba(120,120,240,0.32)"},{"offset":0.63,"color":"rgba(120,120,240,0.2)"},{"offset":1,"color":"rgba(120,120,240,0.08)"}]}},
 "encoding":{"x":{"field":"a","type":"quantitative","axis":null},"x2":{"field":"b"},"y":{"datum":688},"y2":{"datum":0}}},
{"data":{"name":"labels"},
 "mark":{"type":"text","align":"left","baseline":"middle","font":"Open Sans","fontSize":20.5},
 "encoding":{"x":{"field":"x","type":"quantitative","axis":null},"y":{"field":"y","type":"quantitative"},"text":{"field":"s"},
  "color":{"field":"s","type":"nominal","legend":null,
   "scale":{"domain":["56 mM","35 mM","24 mM","18 mM","12 mM","5.9 mM","2.9 mM","1.5 mM"],
    "range":["#7f7f7f","#cc1f77","#f52a2a","#d4730f","#1a9e97","#7a7af5","#1a1ae8","#1a1a1a"]}}}}
],
"resolve":{"scale":{"color":"independent"},"axis":{"x":"independent"}}
}
